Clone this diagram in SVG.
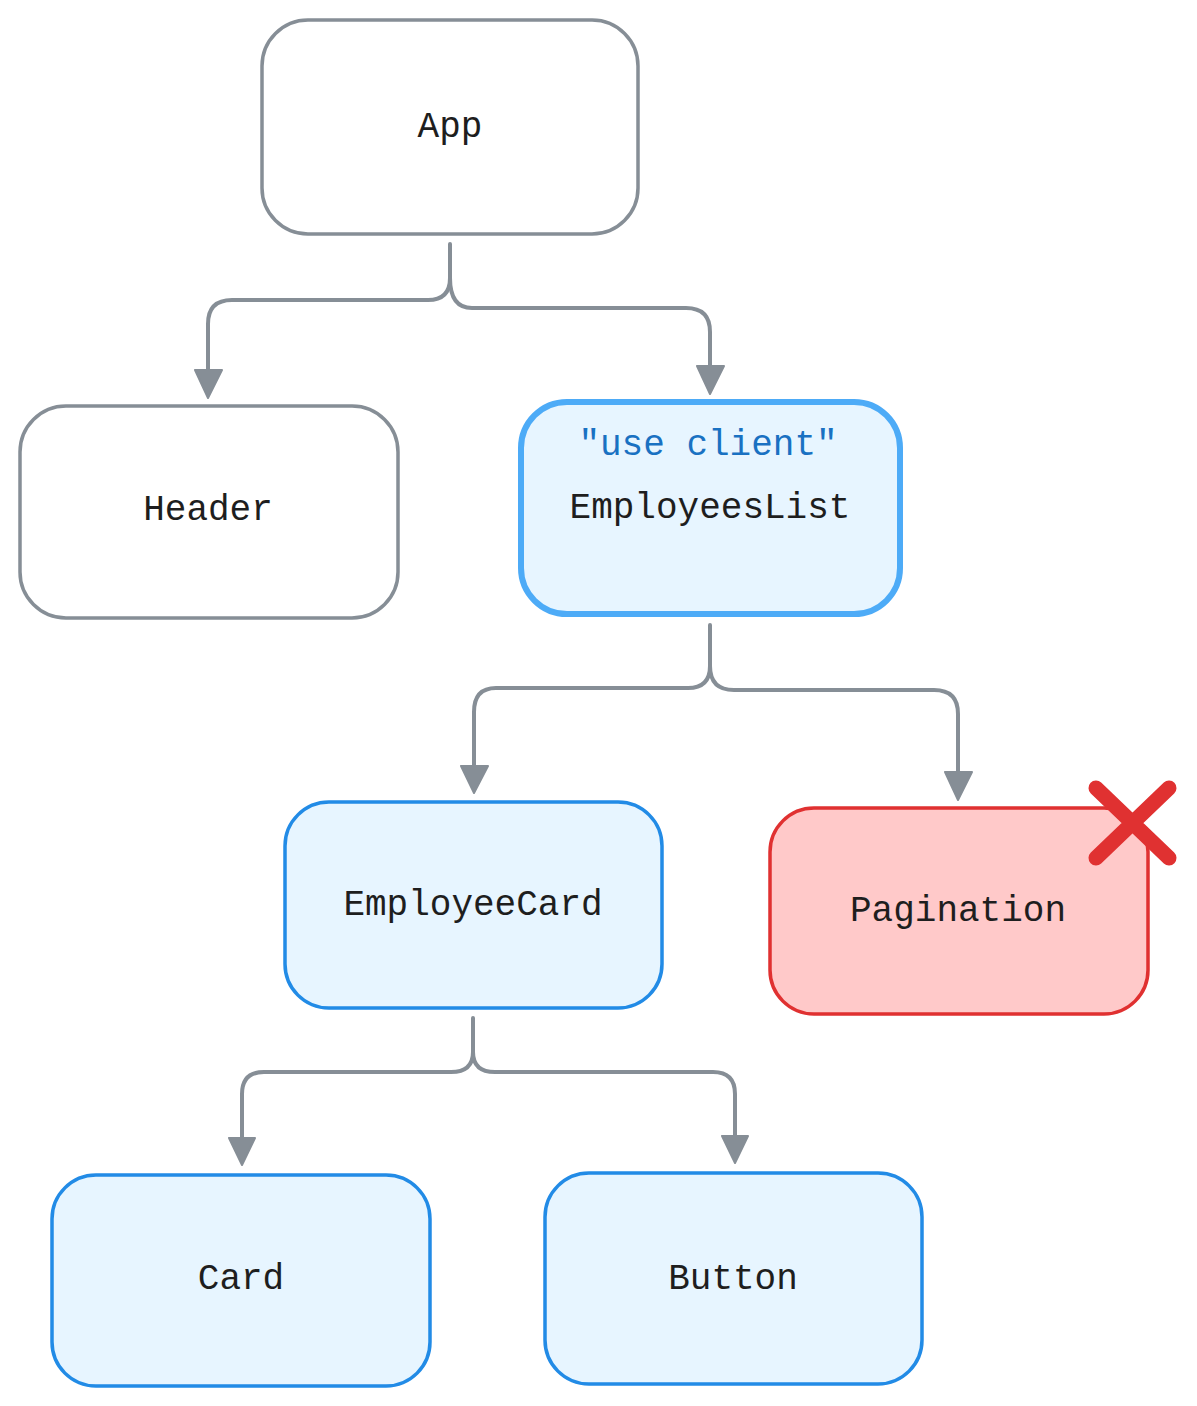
<svg xmlns="http://www.w3.org/2000/svg" width="1197" height="1406" viewBox="0 0 1197 1406">
<defs>
<style>
.lbl{font-family:"Liberation Mono","DejaVu Sans Mono",monospace;font-size:36px;fill:#1e1e1e;text-anchor:middle;dominant-baseline:central}
.gray{fill:#ffffff;stroke:#868e96;stroke-width:3.5}
.blue{fill:#e7f5ff;stroke:#228be6;stroke-width:3.5}
.conn{fill:none;stroke:#868e96;stroke-width:4;stroke-linecap:round;stroke-linejoin:round}
.head{fill:#868e96;stroke:#868e96;stroke-width:2;stroke-linejoin:round}
</style>
</defs>
<rect width="1197" height="1406" fill="#ffffff"/>
<g id="connectors">
<path class="conn" d="M450 244 V278 Q450 300 428 300 H232 Q208 300 208 324 V372"/>
<path class="conn" d="M450 278 Q450 308 472 308 H686 Q710 308 710 332 V368"/>
<polygon class="head" points="195,370 222,370 208,398"/>
<polygon class="head" points="697,366 724,366 710,394"/>
<path class="conn" d="M710 625 V666 Q710 688 688 688 H496 Q474 688 474 712 V766"/>
<path class="conn" d="M710 666 Q710 690 734 690 H934 Q958 690 958 714 V772"/>
<polygon class="head" points="461,766 488,766 474,793"/>
<polygon class="head" points="945,772 972,772 958,800"/>
<path class="conn" d="M473 1018 V1052 Q473 1072 451 1072 H264 Q242 1072 242 1094 V1138"/>
<path class="conn" d="M473 1052 Q473 1072 495 1072 H713 Q735 1072 735 1094 V1136"/>
<polygon class="head" points="229,1138 255,1138 242,1165"/>
<polygon class="head" points="722,1136 748,1136 735,1163"/>
</g>
<g id="app">
<rect class="gray" x="262" y="20" width="376" height="214" rx="46"/>
<text class="lbl" x="450" y="127">App</text>
</g>
<g id="header">
<rect class="gray" x="20" y="406" width="378" height="212" rx="46"/>
<text class="lbl" x="208" y="510">Header</text>
</g>
<g id="employeeslist">
<rect x="521" y="402" width="379" height="212" rx="46" fill="#e7f5ff" stroke="#4dabf7" stroke-width="6"/>
<text class="lbl" x="708" y="445" style="fill:#1971c2">"use client"</text>
<text class="lbl" x="710" y="508">EmployeesList</text>
</g>
<g id="employeecard">
<rect class="blue" x="285" y="802" width="377" height="206" rx="44"/>
<text class="lbl" x="473" y="905">EmployeeCard</text>
</g>
<g id="pagination">
<rect x="770" y="808" width="378" height="206" rx="44" fill="#ffc9c9" stroke="#e03131" stroke-width="3.5"/>
<text class="lbl" x="958" y="911">Pagination</text>
<path d="M1096 788 L1169 858 M1169 788 L1096 858" stroke="#e03131" stroke-width="15" stroke-linecap="round" fill="none"/>
</g>
<g id="card">
<rect class="blue" x="52" y="1175" width="378" height="211" rx="44"/>
<text class="lbl" x="241" y="1279">Card</text>
</g>
<g id="button">
<rect class="blue" x="545" y="1173" width="377" height="211" rx="44"/>
<text class="lbl" x="733" y="1279">Button</text>
</g>
</svg>
